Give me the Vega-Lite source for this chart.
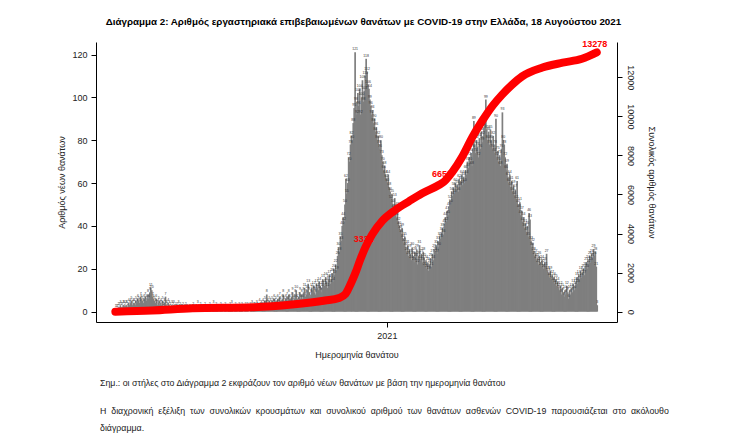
{
  "$schema": "https://vega.github.io/schema/vega-lite/v6.json",
  "background": "white",
  "autosize": {"type": "pad"},
  "padding": {"left": 57, "top": 16, "right": 5, "bottom": 5},
  "title": {
    "text": "Διάγραμμα 2: Αριθμός εργαστηριακά επιβεβαιωμένων θανάτων με COVID-19 στην Ελλάδα, 18 Αυγούστου 2021",
    "font": "Liberation Sans, sans-serif",
    "fontSize": 9.8,
    "fontWeight": "bold",
    "color": "#000",
    "anchor": "middle",
    "offset": 14
  },
  "config": {
    "view": {"stroke": null},
    "font": "Liberation Sans, sans-serif",
    "axis": {
      "labelFont": "Liberation Sans, sans-serif",
      "titleFont": "Liberation Sans, sans-serif",
      "labelFontSize": 9,
      "titleFontSize": 9,
      "titleFontWeight": "normal",
      "labelColor": "#222",
      "titleColor": "#222",
      "domainColor": "#000",
      "tickColor": "#000",
      "tickSize": 5,
      "grid": false
    }
  },
  "datasets": {
    "daily": [
      {"d":"2020-03-12","n":1},{"d":"2020-03-13","n":1},{"d":"2020-03-14","n":1},{"d":"2020-03-15","n":2},{"d":"2020-03-16","n":2},{"d":"2020-03-17","n":3},{"d":"2020-03-18","n":2},{"d":"2020-03-19","n":2},{"d":"2020-03-20","n":3},{"d":"2020-03-21","n":3},{"d":"2020-03-22","n":2},{"d":"2020-03-23","n":3},{"d":"2020-03-24","n":3},{"d":"2020-03-25","n":2},{"d":"2020-03-26","n":4},{"d":"2020-03-27","n":3},{"d":"2020-03-28","n":4},{"d":"2020-03-29","n":5},{"d":"2020-03-30","n":3},{"d":"2020-03-31","n":4},
      {"d":"2020-04-01","n":4},{"d":"2020-04-02","n":3},{"d":"2020-04-03","n":5},{"d":"2020-04-04","n":4},{"d":"2020-04-05","n":6},{"d":"2020-04-06","n":5},{"d":"2020-04-07","n":4},{"d":"2020-04-08","n":7},{"d":"2020-04-09","n":6},{"d":"2020-04-10","n":5},{"d":"2020-04-11","n":4},{"d":"2020-04-12","n":6},{"d":"2020-04-13","n":7},{"d":"2020-04-14","n":5},{"d":"2020-04-15","n":6},{"d":"2020-04-16","n":8},{"d":"2020-04-17","n":6},{"d":"2020-04-18","n":9},{"d":"2020-04-19","n":11},{"d":"2020-04-20","n":10},{"d":"2020-04-21","n":7},{"d":"2020-04-22","n":6},{"d":"2020-04-23","n":5},{"d":"2020-04-24","n":4},{"d":"2020-04-25","n":6},{"d":"2020-04-26","n":3},{"d":"2020-04-27","n":4},{"d":"2020-04-28","n":5},{"d":"2020-04-29","n":3},{"d":"2020-04-30","n":4},
      {"d":"2020-05-01","n":3},{"d":"2020-05-02","n":5},{"d":"2020-05-03","n":2},{"d":"2020-05-04","n":4},{"d":"2020-05-05","n":7},{"d":"2020-05-06","n":3},{"d":"2020-05-07","n":2},{"d":"2020-05-08","n":4},{"d":"2020-05-09","n":3},{"d":"2020-05-10","n":2},{"d":"2020-05-11","n":1},{"d":"2020-05-12","n":3},{"d":"2020-05-13","n":2},{"d":"2020-05-14","n":3},{"d":"2020-05-15","n":1},{"d":"2020-05-16","n":2},{"d":"2020-05-17","n":1},{"d":"2020-05-18","n":2},{"d":"2020-05-19","n":3},{"d":"2020-05-20","n":1},{"d":"2020-05-21","n":2},{"d":"2020-05-22","n":1},{"d":"2020-05-23","n":1},{"d":"2020-05-24","n":2},{"d":"2020-05-25","n":0},{"d":"2020-05-26","n":1},{"d":"2020-05-27","n":2},{"d":"2020-05-28","n":1},{"d":"2020-05-29","n":1},{"d":"2020-05-30","n":0},{"d":"2020-05-31","n":1},
      {"d":"2020-06-01","n":1},{"d":"2020-06-02","n":0},{"d":"2020-06-03","n":1},{"d":"2020-06-04","n":2},{"d":"2020-06-05","n":1},{"d":"2020-06-06","n":0},{"d":"2020-06-07","n":1},{"d":"2020-06-08","n":1},{"d":"2020-06-09","n":3},{"d":"2020-06-10","n":1},{"d":"2020-06-11","n":0},{"d":"2020-06-12","n":2},{"d":"2020-06-13","n":1},{"d":"2020-06-14","n":1},{"d":"2020-06-15","n":0},{"d":"2020-06-16","n":1},{"d":"2020-06-17","n":2},{"d":"2020-06-18","n":1},{"d":"2020-06-19","n":0},{"d":"2020-06-20","n":1},{"d":"2020-06-21","n":1},{"d":"2020-06-22","n":2},{"d":"2020-06-23","n":1},{"d":"2020-06-24","n":0},{"d":"2020-06-25","n":1},{"d":"2020-06-26","n":3},{"d":"2020-06-27","n":1},{"d":"2020-06-28","n":1},{"d":"2020-06-29","n":2},{"d":"2020-06-30","n":1},
      {"d":"2020-07-01","n":1},{"d":"2020-07-02","n":0},{"d":"2020-07-03","n":1},{"d":"2020-07-04","n":2},{"d":"2020-07-05","n":1},{"d":"2020-07-06","n":1},{"d":"2020-07-07","n":0},{"d":"2020-07-08","n":1},{"d":"2020-07-09","n":2},{"d":"2020-07-10","n":1},{"d":"2020-07-11","n":0},{"d":"2020-07-12","n":1},{"d":"2020-07-13","n":1},{"d":"2020-07-14","n":2},{"d":"2020-07-15","n":1},{"d":"2020-07-16","n":3},{"d":"2020-07-17","n":1},{"d":"2020-07-18","n":0},{"d":"2020-07-19","n":1},{"d":"2020-07-20","n":2},{"d":"2020-07-21","n":1},{"d":"2020-07-22","n":1},{"d":"2020-07-23","n":0},{"d":"2020-07-24","n":2},{"d":"2020-07-25","n":1},{"d":"2020-07-26","n":1},{"d":"2020-07-27","n":2},{"d":"2020-07-28","n":1},{"d":"2020-07-29","n":0},{"d":"2020-07-30","n":1},{"d":"2020-07-31","n":2},
      {"d":"2020-08-01","n":1},{"d":"2020-08-02","n":2},{"d":"2020-08-03","n":1},{"d":"2020-08-04","n":0},{"d":"2020-08-05","n":2},{"d":"2020-08-06","n":1},{"d":"2020-08-07","n":3},{"d":"2020-08-08","n":1},{"d":"2020-08-09","n":2},{"d":"2020-08-10","n":2},{"d":"2020-08-11","n":1},{"d":"2020-08-12","n":3},{"d":"2020-08-13","n":2},{"d":"2020-08-14","n":1},{"d":"2020-08-15","n":4},{"d":"2020-08-16","n":2},{"d":"2020-08-17","n":3},{"d":"2020-08-18","n":2},{"d":"2020-08-19","n":4},{"d":"2020-08-20","n":3},{"d":"2020-08-21","n":5},{"d":"2020-08-22","n":3},{"d":"2020-08-23","n":8},{"d":"2020-08-24","n":4},{"d":"2020-08-25","n":3},{"d":"2020-08-26","n":5},{"d":"2020-08-27","n":4},{"d":"2020-08-28","n":3},{"d":"2020-08-29","n":5},{"d":"2020-08-30","n":4},{"d":"2020-08-31","n":6},
      {"d":"2020-09-01","n":4},{"d":"2020-09-02","n":5},{"d":"2020-09-03","n":3},{"d":"2020-09-04","n":6},{"d":"2020-09-05","n":4},{"d":"2020-09-06","n":7},{"d":"2020-09-07","n":5},{"d":"2020-09-08","n":3},{"d":"2020-09-09","n":6},{"d":"2020-09-10","n":8},{"d":"2020-09-11","n":5},{"d":"2020-09-12","n":4},{"d":"2020-09-13","n":6},{"d":"2020-09-14","n":7},{"d":"2020-09-15","n":5},{"d":"2020-09-16","n":8},{"d":"2020-09-17","n":6},{"d":"2020-09-18","n":4},{"d":"2020-09-19","n":7},{"d":"2020-09-20","n":9},{"d":"2020-09-21","n":5},{"d":"2020-09-22","n":6},{"d":"2020-09-23","n":8},{"d":"2020-09-24","n":10},{"d":"2020-09-25","n":6},{"d":"2020-09-26","n":5},{"d":"2020-09-27","n":7},{"d":"2020-09-28","n":9},{"d":"2020-09-29","n":6},{"d":"2020-09-30","n":8},
      {"d":"2020-10-01","n":6},{"d":"2020-10-02","n":9},{"d":"2020-10-03","n":11},{"d":"2020-10-04","n":7},{"d":"2020-10-05","n":8},{"d":"2020-10-06","n":10},{"d":"2020-10-07","n":13},{"d":"2020-10-08","n":9},{"d":"2020-10-09","n":7},{"d":"2020-10-10","n":8},{"d":"2020-10-11","n":11},{"d":"2020-10-12","n":10},{"d":"2020-10-13","n":12},{"d":"2020-10-14","n":9},{"d":"2020-10-15","n":8},{"d":"2020-10-16","n":13},{"d":"2020-10-17","n":11},{"d":"2020-10-18","n":10},{"d":"2020-10-19","n":14},{"d":"2020-10-20","n":12},{"d":"2020-10-21","n":9},{"d":"2020-10-22","n":11},{"d":"2020-10-23","n":15},{"d":"2020-10-24","n":13},{"d":"2020-10-25","n":12},{"d":"2020-10-26","n":16},{"d":"2020-10-27","n":14},{"d":"2020-10-28","n":11},{"d":"2020-10-29","n":15},{"d":"2020-10-30","n":17},{"d":"2020-10-31","n":13},
      {"d":"2020-11-01","n":15},{"d":"2020-11-02","n":18},{"d":"2020-11-03","n":14},{"d":"2020-11-04","n":20},{"d":"2020-11-05","n":17},{"d":"2020-11-06","n":22},{"d":"2020-11-07","n":19},{"d":"2020-11-08","n":26},{"d":"2020-11-09","n":30},{"d":"2020-11-10","n":28},{"d":"2020-11-11","n":35},{"d":"2020-11-12","n":33},{"d":"2020-11-13","n":40},{"d":"2020-11-14","n":44},{"d":"2020-11-15","n":42},{"d":"2020-11-16","n":50},{"d":"2020-11-17","n":62},{"d":"2020-11-18","n":55},{"d":"2020-11-19","n":60},{"d":"2020-11-20","n":72},{"d":"2020-11-21","n":70},{"d":"2020-11-22","n":78},{"d":"2020-11-23","n":82},{"d":"2020-11-24","n":80},{"d":"2020-11-25","n":88},{"d":"2020-11-26","n":95},{"d":"2020-11-27","n":121},{"d":"2020-11-28","n":98},{"d":"2020-11-29","n":92},{"d":"2020-11-30","n":102},
      {"d":"2020-12-01","n":96},{"d":"2020-12-02","n":104},{"d":"2020-12-03","n":92},{"d":"2020-12-04","n":100},{"d":"2020-12-05","n":108},{"d":"2020-12-06","n":98},{"d":"2020-12-07","n":103},{"d":"2020-12-08","n":110},{"d":"2020-12-09","n":118},{"d":"2020-12-10","n":112},{"d":"2020-12-11","n":106},{"d":"2020-12-12","n":104},{"d":"2020-12-13","n":99},{"d":"2020-12-14","n":96},{"d":"2020-12-15","n":92},{"d":"2020-12-16","n":94},{"d":"2020-12-17","n":88},{"d":"2020-12-18","n":90},{"d":"2020-12-19","n":84},{"d":"2020-12-20","n":86},{"d":"2020-12-21","n":80},{"d":"2020-12-22","n":82},{"d":"2020-12-23","n":78},{"d":"2020-12-24","n":76},{"d":"2020-12-25","n":80},{"d":"2020-12-26","n":73},{"d":"2020-12-27","n":70},{"d":"2020-12-28","n":66},{"d":"2020-12-29","n":68},{"d":"2020-12-30","n":64},{"d":"2020-12-31","n":62},
      {"d":"2021-01-01","n":60},{"d":"2021-01-02","n":64},{"d":"2021-01-03","n":58},{"d":"2021-01-04","n":56},{"d":"2021-01-05","n":52},{"d":"2021-01-06","n":55},{"d":"2021-01-07","n":50},{"d":"2021-01-08","n":48},{"d":"2021-01-09","n":53},{"d":"2021-01-10","n":47},{"d":"2021-01-11","n":44},{"d":"2021-01-12","n":49},{"d":"2021-01-13","n":42},{"d":"2021-01-14","n":40},{"d":"2021-01-15","n":38},{"d":"2021-01-16","n":36},{"d":"2021-01-17","n":39},{"d":"2021-01-18","n":34},{"d":"2021-01-19","n":32},{"d":"2021-01-20","n":35},{"d":"2021-01-21","n":30},{"d":"2021-01-22","n":28},{"d":"2021-01-23","n":31},{"d":"2021-01-24","n":26},{"d":"2021-01-25","n":29},{"d":"2021-01-26","n":27},{"d":"2021-01-27","n":24},{"d":"2021-01-28","n":30},{"d":"2021-01-29","n":26},{"d":"2021-01-30","n":23},{"d":"2021-01-31","n":28},
      {"d":"2021-02-01","n":25},{"d":"2021-02-02","n":29},{"d":"2021-02-03","n":22},{"d":"2021-02-04","n":26},{"d":"2021-02-05","n":31},{"d":"2021-02-06","n":24},{"d":"2021-02-07","n":27},{"d":"2021-02-08","n":23},{"d":"2021-02-09","n":28},{"d":"2021-02-10","n":25},{"d":"2021-02-11","n":21},{"d":"2021-02-12","n":24},{"d":"2021-02-13","n":20},{"d":"2021-02-14","n":23},{"d":"2021-02-15","n":19},{"d":"2021-02-16","n":22},{"d":"2021-02-17","n":25},{"d":"2021-02-18","n":21},{"d":"2021-02-19","n":27},{"d":"2021-02-20","n":24},{"d":"2021-02-21","n":29},{"d":"2021-02-22","n":28},{"d":"2021-02-23","n":31},{"d":"2021-02-24","n":27},{"d":"2021-02-25","n":33},{"d":"2021-02-26","n":30},{"d":"2021-02-27","n":35},{"d":"2021-02-28","n":34},
      {"d":"2021-03-01","n":37},{"d":"2021-03-02","n":39},{"d":"2021-03-03","n":36},{"d":"2021-03-04","n":41},{"d":"2021-03-05","n":44},{"d":"2021-03-06","n":42},{"d":"2021-03-07","n":47},{"d":"2021-03-08","n":45},{"d":"2021-03-09","n":49},{"d":"2021-03-10","n":52},{"d":"2021-03-11","n":50},{"d":"2021-03-12","n":56},{"d":"2021-03-13","n":54},{"d":"2021-03-14","n":58},{"d":"2021-03-15","n":55},{"d":"2021-03-16","n":60},{"d":"2021-03-17","n":57},{"d":"2021-03-18","n":59},{"d":"2021-03-19","n":56},{"d":"2021-03-20","n":62},{"d":"2021-03-21","n":58},{"d":"2021-03-22","n":61},{"d":"2021-03-23","n":64},{"d":"2021-03-24","n":59},{"d":"2021-03-25","n":63},{"d":"2021-03-26","n":60},{"d":"2021-03-27","n":66},{"d":"2021-03-28","n":64},{"d":"2021-03-29","n":70},{"d":"2021-03-30","n":67},{"d":"2021-03-31","n":72},
      {"d":"2021-04-01","n":70},{"d":"2021-04-02","n":74},{"d":"2021-04-03","n":68},{"d":"2021-04-04","n":76},{"d":"2021-04-05","n":89},{"d":"2021-04-06","n":78},{"d":"2021-04-07","n":74},{"d":"2021-04-08","n":80},{"d":"2021-04-09","n":77},{"d":"2021-04-10","n":72},{"d":"2021-04-11","n":81},{"d":"2021-04-12","n":76},{"d":"2021-04-13","n":84},{"d":"2021-04-14","n":79},{"d":"2021-04-15","n":82},{"d":"2021-04-16","n":86},{"d":"2021-04-17","n":88},{"d":"2021-04-18","n":99},{"d":"2021-04-19","n":85},{"d":"2021-04-20","n":80},{"d":"2021-04-21","n":84},{"d":"2021-04-22","n":78},{"d":"2021-04-23","n":85},{"d":"2021-04-24","n":80},{"d":"2021-04-25","n":76},{"d":"2021-04-26","n":82},{"d":"2021-04-27","n":74},{"d":"2021-04-28","n":78},{"d":"2021-04-29","n":90},{"d":"2021-04-30","n":72},
      {"d":"2021-05-01","n":75},{"d":"2021-05-02","n":70},{"d":"2021-05-03","n":73},{"d":"2021-05-04","n":68},{"d":"2021-05-05","n":76},{"d":"2021-05-06","n":93},{"d":"2021-05-07","n":80},{"d":"2021-05-08","n":78},{"d":"2021-05-09","n":72},{"d":"2021-05-10","n":66},{"d":"2021-05-11","n":69},{"d":"2021-05-12","n":63},{"d":"2021-05-13","n":60},{"d":"2021-05-14","n":64},{"d":"2021-05-15","n":58},{"d":"2021-05-16","n":61},{"d":"2021-05-17","n":56},{"d":"2021-05-18","n":59},{"d":"2021-05-19","n":54},{"d":"2021-05-20","n":57},{"d":"2021-05-21","n":52},{"d":"2021-05-22","n":61},{"d":"2021-05-23","n":50},{"d":"2021-05-24","n":48},{"d":"2021-05-25","n":51},{"d":"2021-05-26","n":45},{"d":"2021-05-27","n":47},{"d":"2021-05-28","n":42},{"d":"2021-05-29","n":44},{"d":"2021-05-30","n":39},{"d":"2021-05-31","n":41},
      {"d":"2021-06-01","n":37},{"d":"2021-06-02","n":40},{"d":"2021-06-03","n":35},{"d":"2021-06-04","n":46},{"d":"2021-06-05","n":43},{"d":"2021-06-06","n":33},{"d":"2021-06-07","n":30},{"d":"2021-06-08","n":32},{"d":"2021-06-09","n":28},{"d":"2021-06-10","n":26},{"d":"2021-06-11","n":27},{"d":"2021-06-12","n":24},{"d":"2021-06-13","n":25},{"d":"2021-06-14","n":22},{"d":"2021-06-15","n":26},{"d":"2021-06-16","n":23},{"d":"2021-06-17","n":21},{"d":"2021-06-18","n":24},{"d":"2021-06-19","n":22},{"d":"2021-06-20","n":20},{"d":"2021-06-21","n":23},{"d":"2021-06-22","n":21},{"d":"2021-06-23","n":27},{"d":"2021-06-24","n":19},{"d":"2021-06-25","n":18},{"d":"2021-06-26","n":16},{"d":"2021-06-27","n":19},{"d":"2021-06-28","n":15},{"d":"2021-06-29","n":17},{"d":"2021-06-30","n":14},
      {"d":"2021-07-01","n":16},{"d":"2021-07-02","n":13},{"d":"2021-07-03","n":15},{"d":"2021-07-04","n":12},{"d":"2021-07-05","n":14},{"d":"2021-07-06","n":11},{"d":"2021-07-07","n":10},{"d":"2021-07-08","n":12},{"d":"2021-07-09","n":8},{"d":"2021-07-10","n":11},{"d":"2021-07-11","n":9},{"d":"2021-07-12","n":7},{"d":"2021-07-13","n":10},{"d":"2021-07-14","n":8},{"d":"2021-07-15","n":12},{"d":"2021-07-16","n":9},{"d":"2021-07-17","n":6},{"d":"2021-07-18","n":10},{"d":"2021-07-19","n":8},{"d":"2021-07-20","n":11},{"d":"2021-07-21","n":9},{"d":"2021-07-22","n":13},{"d":"2021-07-23","n":10},{"d":"2021-07-24","n":12},{"d":"2021-07-25","n":14},{"d":"2021-07-26","n":16},{"d":"2021-07-27","n":13},{"d":"2021-07-28","n":17},{"d":"2021-07-29","n":15},{"d":"2021-07-30","n":19},{"d":"2021-07-31","n":16},
      {"d":"2021-08-01","n":18},{"d":"2021-08-02","n":20},{"d":"2021-08-03","n":17},{"d":"2021-08-04","n":21},{"d":"2021-08-05","n":23},{"d":"2021-08-06","n":20},{"d":"2021-08-07","n":24},{"d":"2021-08-08","n":22},{"d":"2021-08-09","n":26},{"d":"2021-08-10","n":23},{"d":"2021-08-11","n":27},{"d":"2021-08-12","n":25},{"d":"2021-08-13","n":29},{"d":"2021-08-14","n":26},{"d":"2021-08-15","n":28},{"d":"2021-08-16","n":21},{"d":"2021-08-17","n":3}
    ],
    "cum": [
      {"d":"2020-03-12","c":0},{"d":"2020-04-21","c":60},{"d":"2020-06-04","c":170},{"d":"2020-08-08","c":220},{"d":"2020-09-20","c":360},{"d":"2020-10-26","c":570},{"d":"2020-11-10","c":700},{"d":"2020-11-17","c":900},{"d":"2020-11-22","c":1350},{"d":"2020-11-28","c":2000},{"d":"2020-12-03","c":2650},{"d":"2020-12-09","c":3332},{"d":"2020-12-16","c":3950},{"d":"2020-12-27","c":4650},{"d":"2021-01-10","c":5200},{"d":"2021-01-25","c":5650},{"d":"2021-02-08","c":6050},{"d":"2021-02-27","c":6500},{"d":"2021-03-04","c":6650},{"d":"2021-03-13","c":7150},{"d":"2021-03-24","c":7950},{"d":"2021-04-04","c":8950},{"d":"2021-04-15","c":9800},{"d":"2021-04-26","c":10550},{"d":"2021-05-06","c":11100},{"d":"2021-05-17","c":11620},{"d":"2021-05-28","c":12050},{"d":"2021-06-19","c":12500},{"d":"2021-07-11","c":12750},{"d":"2021-08-01","c":12950},{"d":"2021-08-17","c":13278}
    ]
  },
  "vconcat": [
    {
      "width": 521,
      "height": 280,
      "title": {
        "text": "Σημ.: οι στήλες στο Διάγραμμα 2 εκφράζουν τον αριθμό νέων θανάτων με βάση την ημερομηνία θανάτου",
        "subtitle": ["Η \u00a0διαχρονική \u00a0εξέλιξη \u00a0των \u00a0συνολικών \u00a0κρουσμάτων \u00a0και \u00a0συνολικού \u00a0αριθμού \u00a0των \u00a0θανάτων \u00a0ασθενών \u00a0COVID-19 \u00a0παρουσιάζεται \u00a0στο \u00a0ακόλουθο", "διάγραμμα."],
        "orient": "bottom",
        "anchor": "start",
        "frame": "group",
        "dx": 4,
        "offset": 20,
        "font": "Liberation Sans, sans-serif",
        "fontSize": 8.8,
        "fontWeight": "normal",
        "color": "#222",
        "subtitleFont": "Liberation Sans, sans-serif",
        "subtitleFontSize": 8.8,
        "subtitleColor": "#222",
        "subtitlePadding": 19,
        "subtitleLineHeight": 17
      },
      "layer": [
        {
          "layer": [
            {
              "data": {"name": "daily"},
              "mark": {"type": "bar", "color": "#7f7f7f", "width": 1.7},
              "encoding": {
                "x": {
                  "field": "d", "timeUnit": "utcyearmonthdate", "type": "temporal", "bandPosition": 0.5,
                  "scale": {"type": "utc", "domain": [{"year": 2020, "month": 2, "date": 20, "utc": true}, {"year": 2021, "month": 9, "date": 8, "utc": true}]},
                  "axis": {
                    "values": [{"year": 2021, "month": 1, "date": 1, "utc": true}],
                    "format": "%Y",
                    "labelPadding": 4,
                    "title": "Ημερομηνία θανάτου",
                    "titlePadding": 10
                  }
                },
                "y": {
                  "field": "n", "type": "quantitative",
                  "scale": {"domain": [-4.84, 125.84], "nice": false, "zero": false},
                  "axis": {
                    "orient": "left",
                    "values": [0, 20, 40, 60, 80, 100, 120],
                    "labelPadding": 4,
                    "title": "Αριθμός νέων θανάτων",
                    "titlePadding": 5
                  }
                }
              }
            },
            {
              "data": {"name": "daily"},
              "mark": {"type": "text", "fontSize": 3.5, "color": "#333", "baseline": "bottom", "dy": -1},
              "encoding": {
                "x": {"field": "d", "timeUnit": "utcyearmonthdate", "type": "temporal", "bandPosition": 0.5},
                "y": {"field": "n", "type": "quantitative"},
                "text": {"field": "n", "type": "quantitative"}
              }
            }
          ]
        },
        {
          "layer": [
            {
              "data": {"name": "cum"},
              "transform": [{"filter": {"field": "c", "oneOf": [3332, 6650, 13278]}}],
              "mark": {"type": "text", "color": "#ff0000", "fontSize": 9, "fontWeight": "bold", "dy": -8, "dx": -2, "align": "center"},
              "encoding": {
                "x": {"field": "d", "type": "temporal"},
                "y": {"field": "c", "type": "quantitative"},
                "text": {"field": "c", "type": "quantitative", "format": "d"}
              }
            },
            {
              "data": {"name": "cum"},
              "mark": {"type": "line", "color": "#ff0000", "strokeWidth": 8, "strokeCap": "round", "strokeJoin": "round", "interpolate": "monotone"},
              "encoding": {
                "x": {"field": "d", "type": "temporal"},
                "y": {
                  "field": "c", "type": "quantitative",
                  "scale": {"domain": [-531, 13809], "nice": false, "zero": false},
                  "axis": {
                    "orient": "right",
                    "values": [0, 2000, 4000, 6000, 8000, 10000, 12000],
                    "format": "d",
                    "labelAngle": 90,
                    "labelAlign": "center",
                    "labelBaseline": "bottom",
                    "labelPadding": 3,
                    "title": "Συνολικός αριθμός θανάτων",
                    "titleAngle": 90,
                    "titlePadding": 12
                  }
                }
              }
            }
          ]
        }
      ],
      "resolve": {"scale": {"y": "independent"}}
    }
  ]
}
